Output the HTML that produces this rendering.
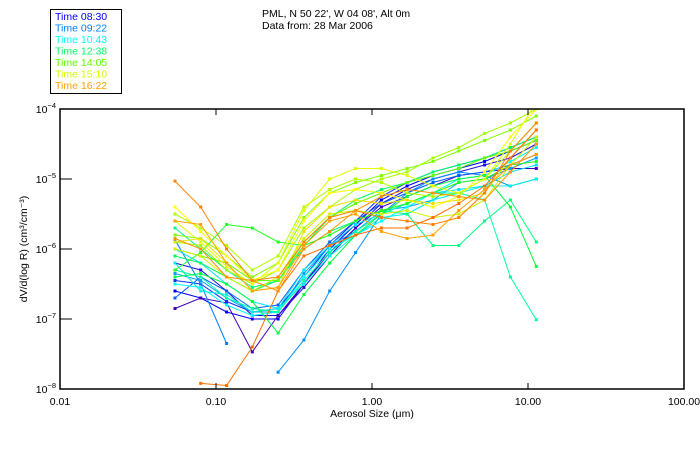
<!DOCTYPE html>
<html><head><meta charset="utf-8">
<style>
body{margin:0;background:#fff;width:700px;height:450px;overflow:hidden;font-family:"Liberation Sans",sans-serif;}
svg{display:block}
</style></head>
<body>
<svg id="chart" width="700" height="450" xmlns="http://www.w3.org/2000/svg">
<rect x="50.5" y="9.5" width="71" height="84" fill="#fff" stroke="#000" stroke-width="1"/>
<g font-size="10.5" font-family="Liberation Sans, sans-serif">
<text x="55" y="20" fill="#0000ff">Time 08:30</text>
<text x="55" y="31.5" fill="#0080ff">Time 09:22</text>
<text x="55" y="43" fill="#00ffff">Time 10:43</text>
<text x="55" y="54.5" fill="#00ff60">Time 12:38</text>
<text x="55" y="66" fill="#60ff00">Time 14:05</text>
<text x="55" y="77.5" fill="#d0ff00">Time 15:10</text>
<text x="55" y="89" fill="#ffa000">Time 16:22</text>
</g>
<text x="262" y="17" font-size="10.5">PML, N 50 22', W 04 08', Alt 0m</text>
<text x="262" y="29" font-size="10.5">Data from: 28 Mar 2006</text>
<g id="plot"></g>
<rect x="60" y="109" width="624" height="280" fill="none" stroke="#000" stroke-width="1.5"/>
<g id="axes" font-size="10.5"></g>
<text x="372" y="417" font-size="10.5" text-anchor="middle">Aerosol Size (μm)</text>
<text transform="translate(27,249) rotate(-90)" font-size="10.5" text-anchor="middle">dV/d(log R) (cm³/cm⁻³)</text>
</svg>
<script>
const sizes=[0.0546,0.0798,0.117,0.171,0.250,0.366,0.536,0.785,1.148,1.68,2.46,3.60,5.27,7.71,11.3];
const xTicks=[0.01,0.1,1,10,100];
const xTickLabels=["0.01","0.10","1.00","10.00","100.00"];
const yTicks=[-4,-5,-6,-7,-8];
const seriesColors=["#0000ff","#2010e0","#4000c0","#1030ff","#0080ff","#0090ff","#0060ff","#00a0ff","#00ffff","#00e0ff","#00f0e0","#00ffa0","#00ff80","#00ff40","#00ff60","#20ff20","#80ff00","#a0ff00","#60ff00","#b0ff00","#e0ff00","#ffff00","#f0e000","#d0f000","#ff8000","#ff7000","#ffa000","#ff9000"];
const seriesLog=[
[-6.6,-6.7,-6.9,-7.0,-7.0,-6.5,-6.0,-5.65,-5.3,-5.1,-4.95,-4.85,-4.75,-4.6,-4.45],
[-6.2,-6.3,-6.6,-6.95,-6.95,-6.55,-6.1,-5.7,-5.35,-5.15,-5.0,-4.9,-4.8,-4.7,-4.5],
[-6.85,-6.7,-6.77,-7.47,-6.95,-6.5,-6.05,-5.7,-5.4,-5.25,-5.1,-4.95,-4.9,-4.85,-4.85],
[-6.45,-6.5,-6.75,-6.9,-6.85,-6.4,-5.95,-5.6,-5.25,-5.05,-4.9,-4.8,-4.7,-4.55,-4.4],
[-5.87,-6.5,-7.35,null,null,null,null,null,null,null,null,null,null,null,null],
[null,null,null,null,-7.76,-7.3,-6.6,-6.05,-5.5,-5.2,-5.0,-4.9,-4.95,-5.1,-5.0],
[-6.7,-6.4,-6.6,-6.85,-6.8,-6.3,-5.9,-5.6,-5.35,-5.2,-5.05,-4.95,-4.9,-4.8,-4.65],
[-6.35,-6.45,-6.7,-6.9,-6.9,-6.35,-5.95,-5.75,-5.45,-5.4,-5.3,-5.05,-5.0,-4.85,-4.7],
[-6.5,-6.55,-6.8,-6.95,-6.9,-6.4,-6.0,-5.8,-5.6,-5.4,-5.2,-5.0,-4.95,-4.75,-4.55],
[-6.0,-6.2,-6.5,-6.75,-6.85,-6.3,-5.95,-5.65,-5.5,-5.35,-5.2,-5.15,-5.1,-4.9,-4.8],
[-6.2,-6.6,-6.65,-6.9,-6.85,-6.5,-6.1,-5.8,-5.55,-5.5,-5.3,-5.2,-5.1,-5.1,-5.0],
[-6.3,-6.4,-6.7,-6.85,-6.9,-6.45,-6.05,-5.75,-5.5,-5.35,-5.2,-5.2,-5.3,-6.4,-7.01],
[-5.7,-6.0,-6.3,-6.55,-6.45,-6.0,-5.75,-5.6,-5.45,-5.5,-5.95,-5.95,-5.6,-5.3,-5.9],
[-6.4,-6.35,-6.5,-6.75,-7.2,-6.65,-6.2,-5.8,-5.5,-5.25,-5.1,-5.0,-4.95,-5.4,-6.25],
[-6.1,-6.2,-6.4,-6.6,-6.45,-5.95,-5.55,-5.3,-5.15,-5.05,-4.9,-4.8,-4.7,-4.55,-4.4],
[-6.3,-6.05,-5.65,-5.7,-5.9,-5.95,-5.8,-5.6,-5.45,-5.35,-5.2,-5.05,-5.0,-4.8,-4.75],
[-5.8,-5.85,-6.1,-6.4,-6.2,-5.55,-5.2,-5.05,-4.95,-4.85,-4.75,-4.6,-4.45,-4.3,-4.1],
[-5.9,-5.95,-6.3,-6.5,-6.3,-5.7,-5.4,-5.15,-5.0,-4.9,-4.7,-4.55,-4.35,-4.2,-4.0],
[-6.0,-6.1,-6.2,-6.45,-6.45,-5.9,-5.55,-5.35,-5.2,-5.05,-4.95,-4.85,-4.7,-4.6,-4.45],
[-5.5,-5.7,-5.95,-6.3,-6.1,-5.4,-5.15,-5.0,-5.05,-5.2,-5.25,-5.2,-5.0,-4.6,-4.2],
[-5.6,-5.9,-6.25,-6.5,-6.2,-5.45,-5.0,-4.85,-4.85,-4.95,-5.1,-5.2,-5.0,-4.5,-3.9],
[-5.4,-5.75,-6.1,-6.45,-6.3,-5.6,-5.2,-5.15,-5.2,-5.3,-5.4,-5.25,-4.9,-4.4,-4.0],
[-5.9,-5.85,-6.2,-6.6,-6.55,-5.75,-5.4,-5.3,-5.35,-5.3,-5.35,-5.3,-5.2,-4.7,-4.3],
[-6.0,-6.1,-6.4,-6.6,-6.4,-5.85,-5.5,-5.45,-5.5,-5.45,-5.55,-5.5,-5.3,-4.8,-4.4],
[-5.03,-5.4,-6.0,-6.45,-6.4,-5.9,-5.55,-5.45,-5.55,-5.6,-5.65,-5.55,-5.2,-4.6,-4.2],
[null,-7.92,-7.95,-7.4,-6.6,-6.1,-5.95,-5.8,-5.7,-5.7,-5.55,-5.35,-5.1,-4.7,-4.3],
[-5.6,-5.65,-6.2,-6.6,-6.55,-5.95,-5.6,-5.5,-5.75,-5.85,-5.8,-5.45,-5.15,-4.8,-4.65],
[-5.85,-6.0,-6.4,-6.45,-6.6,-6.0,-5.75,-5.45,-5.25,-5.15,-5.2,-5.25,-5.3,-4.9,-4.5]
];
const NS="http://www.w3.org/2000/svg";
const X0=60,X1=684,Y0=109,Y1=389;
function xPos(v){return X0+(Math.log10(v)+2)/4*(X1-X0);}
function yPos(l){return Y0+(-4-l)/4*(Y1-Y0);}
const svg=document.getElementById('chart');
const defs=document.createElementNS(NS,'defs');
defs.innerHTML='<clipPath id="clip"><rect x="60" y="109" width="624" height="280"/></clipPath>';
svg.insertBefore(defs,svg.firstChild);
const plot=document.getElementById('plot');
plot.setAttribute('clip-path','url(#clip)');
seriesLog.forEach((s,i)=>{
  const g=document.createElementNS(NS,'g');
  
  
  let d='',started=false;
  s.forEach((v,j)=>{
    if(v===null){started=false;return;}
    d+=(started?'L':'M')+xPos(sizes[j]).toFixed(1)+' '+yPos(v).toFixed(1);
    started=true;
  });
  const p=document.createElementNS(NS,'path');
  
  
  p.setAttribute('d',d);p.setAttribute('fill','none');
  p.setAttribute('stroke',seriesColors[i]);p.setAttribute('stroke-width','1');
  g.appendChild(p);
  s.forEach((v,j)=>{
    if(v===null)return;
    const r=document.createElementNS(NS,'rect');
    
    
    r.setAttribute('x',(xPos(sizes[j])-1.5).toFixed(1));
    r.setAttribute('y',(yPos(v)-1.5).toFixed(1));
    r.setAttribute('width','3');r.setAttribute('height','3');
    r.setAttribute('fill',seriesColors[i]);
    g.appendChild(r);
  });
  plot.appendChild(g);
});
const axes=document.getElementById('axes');
xTicks.forEach((t,i)=>{
  const x=xPos(t);
  [[Y1,Y1-6],[Y0,Y0+6]].forEach(([a,b])=>{
    const l=document.createElementNS(NS,'line');
    
    
    l.setAttribute('x1',x);l.setAttribute('x2',x);l.setAttribute('y1',a);l.setAttribute('y2',b);
    l.setAttribute('stroke','#000');
    axes.appendChild(l);
  });
  const tx=document.createElementNS(NS,'text');
  
  
  tx.setAttribute('x',x);tx.setAttribute('y',405);tx.setAttribute('text-anchor','middle');
  tx.textContent=xTickLabels[i];
  axes.appendChild(tx);
});
yTicks.forEach(t=>{
  const y=yPos(t);
  const l=document.createElementNS(NS,'line');
  
  
  l.setAttribute('x1',X0);l.setAttribute('x2',X0+12);l.setAttribute('y1',y);l.setAttribute('y2',y);
  l.setAttribute('stroke','#000');
  axes.appendChild(l);
  const tx=document.createElementNS(NS,'text');
  
  
  tx.setAttribute('x',56);tx.setAttribute('y',y+4);tx.setAttribute('text-anchor','end');
  tx.innerHTML='10<tspan dy="-5" font-size="7.5">'+'\u2212'+(-t)+'</tspan>';
  axes.appendChild(tx);
});
</script>
</body></html>
